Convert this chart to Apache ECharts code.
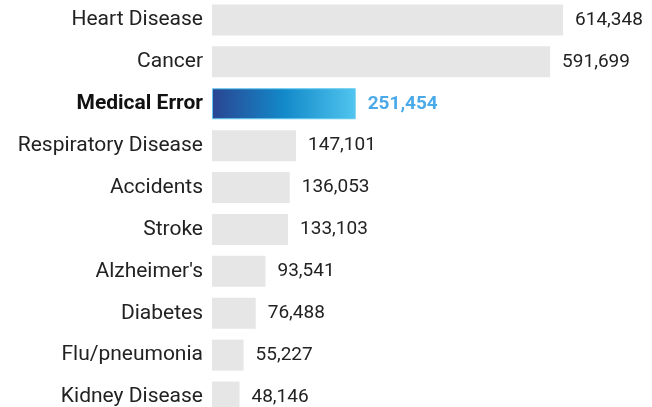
<!DOCTYPE html>
<html>
<head>
<meta charset="utf-8">
<script src="https://cdn.jsdelivr.net/npm/echarts@6/dist/echarts.min.js"></script>
<style>
  html, body { margin: 0; padding: 0; background: #fff; }
  #chart { width: 652px; height: 407px; }
</style>
</head>
<body>
<div id="chart"></div>
<script>
// causes of death (top to bottom)
var causes = [
  'Heart Disease', 'Cancer', 'Medical Error', 'Respiratory Disease', 'Accidents',
  'Stroke', "Alzheimer's", 'Diabetes', 'Flu/pneumonia', 'Kidney Disease'
]
var deaths = [614348, 591699, 251454, 147101, 136053, 133103, 93541, 76488, 55227, 48146]
var highlight = 'Medical Error'

var myChart = echarts.init(document.getElementById('chart'))

var barData = deaths.map(function (v, i) {
  if (causes[i] !== highlight) return v
  return {
    value: v,
    itemStyle: {
      color: new echarts.graphic.LinearGradient(0, 0, 1, 0, [
        { offset: 0, color: '#2a4592' },
        { offset: 0.5, color: '#1389c9' },
        { offset: 1, color: '#50c5ef' }
      ]),
      borderColor: '#62c8ef',
      borderWidth: 1
    },
    label: { color: '#4aa9e9', fontWeight: 'bold' }
  }
})

var option = {
  backgroundColor: '#fff',
  animation: false,
  grid: {
    left: 212, width: 400, top: -1, height: 419,
    containLabel: false, outerBoundsMode: 'none'
  },
  xAxis: {
    type: 'value',
    min: 0,
    max: 700000,
    show: false
  },
  yAxis: {
    type: 'category',
    inverse: true,
    data: causes,
    axisLine: { show: false },
    axisTick: { show: false },
    axisLabel: {
      margin: 9,
      fontFamily: 'Roboto',
      fontSize: 21,
      color: '#222',
      formatter: function (v) {
        return v === highlight ? '{b|' + v + '}' : v
      },
      rich: {
        b: { fontFamily: 'Roboto', fontSize: 21, fontWeight: 'bold', color: '#111' }
      }
    }
  },
  series: [{
    type: 'bar',
    data: barData,
    barWidth: 31,
    itemStyle: { color: '#e6e6e6' },
    label: {
      show: true,
      position: 'right',
      distance: 12,
      fontFamily: 'Roboto',
      fontSize: 19,
      color: '#222',
      formatter: function (p) {
        return p.value.toLocaleString('en-US')
      }
    }
  }]
}

myChart.setOption(option, true)
</script>
</body>
</html>
